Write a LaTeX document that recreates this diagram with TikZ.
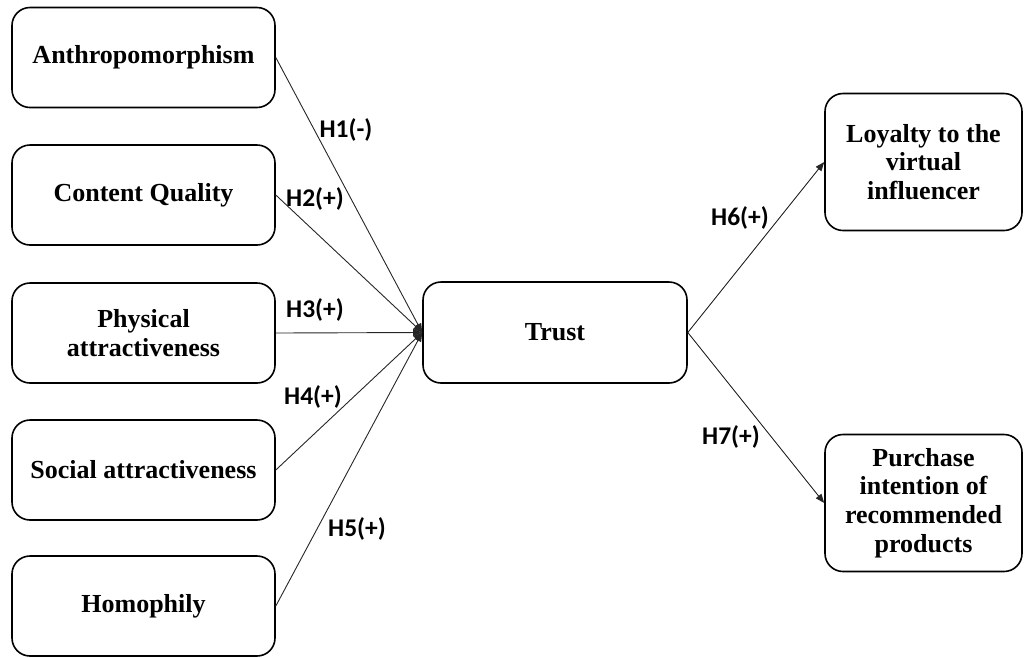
\documentclass[tikz,border=0pt]{standalone}
\usepackage{fontspec}
\setmainfont{Liberation Serif}
\newfontfamily\labelfont{Carlito}
\usetikzlibrary{arrows.meta}
\begin{document}
\begin{tikzpicture}[x=1pt,y=-1pt,
  box/.style={draw, line width=1.6pt, rounded corners=18pt, align=center,
    font=\fontsize{26}{28.7}\selectfont\bfseries, inner sep=0pt},
  leftbox/.style={box, minimum width=263pt, minimum height=100pt},
  rightbox/.style={box, minimum width=197pt, minimum height=137pt},
  link/.style={line width=0.9pt, draw=black!85, -{Triangle[length=9pt,width=7pt]}},
  hyp/.style={font=\labelfont\fontsize{25.5}{28}\selectfont\bfseries, inner sep=0pt}]
\useasboundingbox (0,0) rectangle (1024,657);

% determinants
\node[leftbox] (anthro) at (143.5,57.5) {Anthropomorphism};
\node[leftbox] (content) at (143.5,195) {Content Quality};
\node[leftbox] (phys) at (143.5,333) {Physical\\attractiveness};
\node[leftbox] (social) at (143.5,470) {Social attractiveness};
\node[leftbox] (homo) at (143.5,606) {Homophily};

% mediator and outcomes
\node[box, minimum width=264pt, minimum height=101pt] (trust) at (555,332.5) {Trust};
\node[rightbox] (loyal) at (923.5,162) {Loyalty to the\\virtual\\influencer};
\node[rightbox] (buy) at (923.5,503) {Purchase\\intention of\\recommended\\products};

% paths
\foreach \src in {anthro,content,phys,social,homo}
  \draw[link] (\src.east) -- (trust.west);
\draw[link] (trust.east) -- (loyal.west);
\draw[link] (trust.east) -- (buy.west);

% hypothesis labels
\node[hyp] (h1) at (346,130) {H1(-)};
\node[hyp] (h2) at (315,199) {H2(+)};
\node[hyp] (h3) at (315,310) {H3(+)};
\node[hyp] (h4) at (313,397) {H4(+)};
\node[hyp] (h5) at (357,529) {H5(+)};
\node[hyp] (h6) at (740,218) {H6(+)};
\node[hyp] (h7) at (731,437) {H7(+)};
\end{tikzpicture}
\end{document}
